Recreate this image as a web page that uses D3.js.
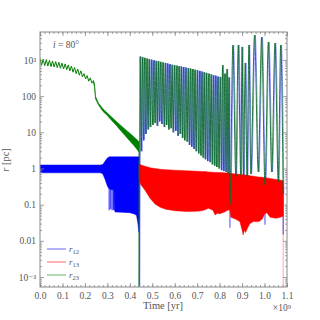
<!DOCTYPE html>
<html>
<head>
<meta charset="utf-8">
<script src="https://cdn.jsdelivr.net/npm/d3@7"></script>
<style>
body { margin: 0; background: #fff; }
svg { display: block; }
text { font-family: "Liberation Serif", "DejaVu Serif", serif; fill: #555; }
</style>
</head>
<body>
<div id="chart"></div>
<script>
// axis labels
var xTicks = [0, 0.1, 0.2, 0.3, 0.4, 0.5, 0.6, 0.7, 0.8, 0.9, 1.0, 1.1];
var yTicks = [1e-3, 1e-2, 1e-1, 1, 10, 100, 1e3];
var yTickLabels = ["10\u207B\u00B3", "0.01", "0.1", "1", "10", "100", "10\u00B3"];

// r23 before the break: zigzag (time in 1e9 yr, r in pc)
var g1T = [0, .007, .014, .021, .028, .035, .042, .049, .056, .063, .07, .077, .084, .091, .098, .105, .112, .119,
           .126, .133, .14, .147, .154, .161, .168, .175, .182, .189, .196, .203, .21, .217, .224, .231, .238];
var g1V = [1100, 720, 1060, 700, 1020, 680, 980, 660, 940, 640, 900, 615, 860, 590, 820, 565, 780, 540,
           730, 500, 680, 460, 620, 420, 560, 380, 500, 340, 420, 300, 370, 260, 320, 230, 270];

// r23 dense band before the break
var gBandT  = [.238, .243, .247, .26, .28, .30, .32, .34, .36, .38, .40, .42, .435, .441];
var gBandHi = [270, 220, 100, 65, 45, 34, 26, 20, 15.5, 12, 9.5, 7.3, 6, 5.5];
var gBandLo = [230, 180, 85, 58, 38, 29, 21, 15.5, 11, 8, 5.8, 4.2, 3.2, 2.8];

// r12 band before the break
var bBandT  = [0, .27, .28, .29, .30, .305, .31, .32, .33, .334, .36, .40, .42, .43, .436, .441];
var bBandHi = [1.25, 1.25, 1.3, 1.6, 1.95, 2.05, 2.1, 2.1, 2.1, 2.1, 2.1, 2.1, 2.1, 2.1, 2.1, 2.1];
var bBandLo = [.76, .76, .7, .5, .33, .29, .27, .26, .26, .063, .062, .06, .055, .05, .03, .017];
var bSpikeT = [.308, .315, .321, .327, .331];
var bSpikeV = [.07, .075, .07, .072, .068];

// r13 band after the break
var rBandT  = [.441, .45, .468, .49, .512, .535, .56, .60, .65, .70, .72, .735, .75, .77, .78, .79, .80, .82, .835,
               .846, .85, .87, .89, .90, .905, .91, .915, .925, .935, .95, .975, .99, 1.0, 1.01, 1.025, 1.05, 1.07, 1.083];
var rBandHi = [1.35, 1.25, 1.15, 1.05, 1.0, .95, .93, .9, .87, .84, .83, .82, .8, .79, .78, .78, .77, .76, .75,
               .74, .73, .71, .69, .68, .67, .67, .66, .65, .63, .61, .58, .57, .56, .55, .53, .5, .48, .46];
var rBandLo = [.49, .35, .25, .15, .105, .085, .075, .068, .065, .066, .068, .072, .08, .07, .052, .058, .056, .062, .07,
               .072, .045, .04, .034, .02, .0146, .02, .017, .023, .03, .034, .034, .04, .055, .06, .045, .042, .045, .048];
var rEndT = [1.083, 1.083];
var rEndV = [.46, 1e-4];

// r12 / r23 orbits after the break: trough times, trough values, peak values
var cycT = [.441, .451, .461, .471, .481, .491, .502, .512, .522, .532, .542, .553, .563, .573, .583, .593, .604,
            .614, .624, .634, .644, .655, .665, .675, .685, .695, .706, .716, .726, .736, .746, .757, .767, .777,
            .787, .797, .808, .818, .828, .837, .846,
            .872, .894, .906, .922, .939, .972, 1.002, 1.032, 1.061, 1.083];
var cycLow = [1e-4, 3, 6, 9, 12, 14, 16, 18, 15, 20, 17, 14, 16, 12, 13, 10, 11, 8, 9, 7, 6, 5.5, 4.5, 4, 3.5,
              3, 2.6, 2.3, 2, 1.8, 1.6, 1.5, 1.3, 1.2, 1.1, 1.0, .9, .85, .8, .7, .1,
              .6, .66, .6, .6, .7, .8, .35, .8, .43, .2];
var cycHigh = [1250, 1200, 1150, 1100, 1060, 1020, 980, 950, 920, 890, 860, 830, 800, 770, 740, 720, 700, 680,
               660, 640, 620, 600, 580, 560, 540, 520, 500, 480, 460, 440, 420, 400, 380, 370, 350, 340, 720, 420, 560, 330,
               2600, 2600, 2300, 830, 2600, 4900, 4300, 3150, 2950, 2600];
var bDipT = [.846, 1.002, 1.083];
var bDipV = [.023, .028, .015];

var margin = { top: 32, right: 33, bottom: 33, left: 40 };
var width = 320, height = 320;
var iw = width - margin.left - margin.right;
var ih = height - margin.top - margin.bottom;

var svg = d3.select("#chart").append("svg")
  .attr("width", width).attr("height", height);
var g = svg.append("g")
  .attr("transform", "translate(" + margin.left + "," + margin.top + ")");

var x = d3.scaleLinear().domain([0, 1.1]).range([0, iw]);
var y = d3.scaleLog().domain([Math.pow(10, -3.276), Math.pow(10, 3.774)]).range([ih, 0]);

g.append("defs").append("clipPath").attr("id", "clip")
  .append("rect").attr("width", iw).attr("height", ih);
var plot = g.append("g").attr("clip-path", "url(#clip)");

function band(T, hi, lo) {
  return T.map(function(t, i) { return { t: t, hi: hi[i], lo: lo[i] }; });
}
var area = d3.area()
  .x(function(d) { return x(d.t); })
  .y0(function(d) { return y(d.lo); })
  .y1(function(d) { return y(d.hi); });
var line = d3.line()
  .x(function(d) { return x(d[0]); })
  .y(function(d) { return y(d[1]); });
var orbit = d3.line()
  .x(function(d) { return x(d[0]); })
  .y(function(d) { return y(d[1]); })
  .curve(d3.curveMonotoneX);

// orbit points: trough, peak (half way), trough ...
var cyc = [];
for (var i = 0; i < cycT.length; i++) {
  cyc.push([cycT[i], cycLow[i]]);
  if (i < cycHigh.length) cyc.push([(cycT[i] + cycT[i + 1]) / 2, cycHigh[i]]);
}

// r12 blue
plot.append("path").datum(band(bBandT, bBandHi, bBandLo))
  .attr("d", area).attr("fill", "#0000ff").attr("stroke", "#0000ff").attr("stroke-width", 0.5);
plot.selectAll(".bsp").data(bSpikeT).enter().append("path").attr("class", "bsp")
  .attr("d", function(t, i) { return line([[t, 0.5], [t, bSpikeV[i]]]); })
  .attr("stroke", "#0000ff").attr("stroke-width", 0.9);
plot.append("path").datum(cyc)
  .attr("d", orbit).attr("fill", "none")
  .attr("stroke", "#0000ff").attr("stroke-opacity", 0.45).attr("stroke-width", 0.9)
  .attr("transform", "translate(0.7,0)");
plot.selectAll(".bdip").data(bDipT).enter().append("path").attr("class", "bdip")
  .attr("d", function(t, i) { return line([[t, 0.3], [t, bDipV[i]]]); })
  .attr("stroke", "#3333ff").attr("stroke-width", 0.9);

// r13 red
plot.append("path").datum(band(rBandT, rBandHi, rBandLo))
  .attr("d", area).attr("fill", "#ff0000").attr("stroke", "#ff0000").attr("stroke-width", 0.5);
plot.append("path").datum(rEndT.map(function(t, i) { return [t, rEndV[i]]; }))
  .attr("d", line).attr("fill", "none").attr("stroke", "#ff0000").attr("stroke-opacity", 0.45).attr("stroke-width", 0.8);

// r23 green
plot.append("path").datum(g1T.map(function(t, i) { return [t, g1V[i]]; }))
  .attr("d", line).attr("fill", "none").attr("stroke", "#008000").attr("stroke-width", 1);
plot.append("path").datum(band(gBandT, gBandHi, gBandLo))
  .attr("d", area).attr("fill", "#008000").attr("stroke", "#008000").attr("stroke-width", 0.6);
plot.append("path").datum([[gBandT[gBandT.length - 1], gBandLo[gBandLo.length - 1]]].concat(cyc))
  .attr("d", orbit).attr("fill", "none").attr("stroke", "#0b6b2b").attr("stroke-width", 0.9);

// frame and ticks on all sides, pointing in
var tickCol = "#888";
var xMinor = d3.range(0, 1.1001, 0.02);
var yMinor = [];
yTicks.concat([1e-4]).forEach(function(p) {
  for (var k = 2; k < 10; k++) yMinor.push(p * k);
});
yMinor = yMinor.filter(function(v) { return v > y.domain()[0] && v < y.domain()[1]; });

function drawAxis(axis, tr, labels) {
  var a = g.append("g").attr("transform", tr).call(axis);
  a.select(".domain").remove();
  a.selectAll("line").attr("stroke", tickCol).attr("stroke-width", 0.8);
  if (!labels) a.selectAll("text").remove();
  return a;
}
drawAxis(d3.axisBottom(x).tickValues(xMinor).tickSize(-2), "translate(0," + ih + ")", false);
drawAxis(d3.axisTop(x).tickValues(xMinor).tickSize(-2), "translate(0,0)", false);
drawAxis(d3.axisTop(x).tickValues(xTicks).tickSize(-4), "translate(0,0)", false);
var xa = drawAxis(d3.axisBottom(x).tickValues(xTicks).tickSize(-4).tickPadding(5)
  .tickFormat(d3.format(".1f")), "translate(0," + ih + ")", true);
xa.selectAll("text").style("font-size", "9.5px").attr("fill", "#555");

drawAxis(d3.axisLeft(y).tickValues(yMinor).tickSize(-2), "translate(0,0)", false);
drawAxis(d3.axisRight(y).tickValues(yMinor).tickSize(-2), "translate(" + iw + ",0)", false);
drawAxis(d3.axisRight(y).tickValues(yTicks).tickSize(-4), "translate(" + iw + ",0)", false);
var ya = drawAxis(d3.axisLeft(y).tickValues(yTicks).tickSize(-4).tickPadding(4)
  .tickFormat(function(d, i) { return yTickLabels[i]; }), "translate(0,0)", true);
ya.selectAll("text").style("font-size", "9.5px").attr("fill", "#555");

g.append("rect").attr("width", iw).attr("height", ih)
  .attr("fill", "none").attr("stroke", tickCol).attr("stroke-width", 1);

// labels
svg.append("text").attr("x", 163).attr("y", 309).attr("text-anchor", "middle")
  .style("font-size", "10.5px").text("Time [yr]");
svg.append("text").attr("x", 291).attr("y", 311).attr("text-anchor", "end")
  .style("font-size", "9.5px").text("\u00D710\u2079");
svg.append("text").attr("transform", "translate(9,160) rotate(-90)").attr("text-anchor", "middle")
  .style("font-size", "10.5px")
  .html('<tspan font-style="italic">r</tspan> [pc]');
svg.append("text").attr("x", 53).attr("y", 48).style("font-size", "9.5px")
  .html('<tspan font-style="italic">i</tspan> = 80\u00B0');

// legend
var legNames = ["12", "13", "23"];
var legCols = ["#0000ff", "#ff0000", "#008000"];
var leg = svg.append("g").attr("transform", "translate(47,249)");
legNames.forEach(function(n, i) {
  leg.append("line").attr("x1", 0).attr("x2", 19).attr("y1", i * 13).attr("y2", i * 13)
    .attr("stroke", legCols[i]).attr("stroke-width", 1).attr("stroke-opacity", 0.6);
  leg.append("text").attr("x", 22).attr("y", i * 13 + 3).style("font-size", "9px")
    .html('<tspan font-style="italic">r</tspan><tspan dy="2" font-size="6.5px">' + n + '</tspan>');
});
</script>
</body>
</html>
